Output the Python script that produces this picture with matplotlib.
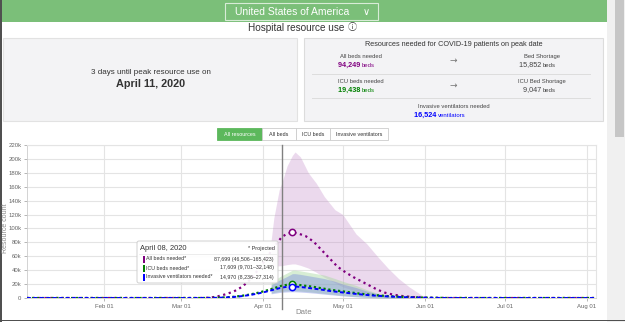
import matplotlib
matplotlib.use('Agg')
import matplotlib.pyplot as plt
import matplotlib.patches as patches
import matplotlib.dates as mdates

plt.rcParams['font.family'] = ['Liberation Sans', 'DejaVu Sans']

# ---- data ----
mean_dates = ['2020-01-03', '2020-03-08', '2020-03-12', '2020-03-15', '2020-03-18', '2020-03-21',
              '2020-03-24', '2020-03-27', '2020-03-30', '2020-04-02', '2020-04-05', '2020-04-08',
              '2020-04-10', '2020-04-12', '2020-04-14', '2020-04-17', '2020-04-20', '2020-04-23',
              '2020-04-26', '2020-04-29', '2020-05-02', '2020-05-05', '2020-05-08', '2020-05-11',
              '2020-05-14', '2020-05-17', '2020-05-20', '2020-05-24', '2020-05-28', '2020-06-02',
              '2020-06-10', '2020-08-04']
all_beds = [0, 0, 500, 2500, 5500, 9500, 16000, 26000, 40000, 56000, 73000, 87699,
            92500, 94249, 93000, 89000, 81000, 69000, 57000, 45000, 37000, 30000, 24000, 18000,
            12000, 7500, 4800, 2500, 1200, 300, 0, 0]
icu_beds = [0, 0, 100, 400, 900, 1800, 3200, 5000, 7500, 10500, 14000, 17609,
            19000, 19438, 19000, 17500, 16000, 14000, 12000, 10500, 9000, 7500, 6000, 4800,
            3900, 3000, 2300, 1500, 900, 400, 0, 0]
ventilators = [0, 0, 80, 350, 800, 1500, 2700, 4300, 6400, 9000, 12000, 14970,
               16100, 16524, 16200, 15000, 13500, 12000, 10200, 8800, 7500, 6300, 5100, 4000,
               3200, 2500, 1900, 1200, 700, 300, 0, 0]
peak_date = '2020-04-12'

band_dates = ['2020-04-04', '2020-04-05', '2020-04-07', '2020-04-08', '2020-04-10', '2020-04-12',
              '2020-04-13', '2020-04-15', '2020-04-18', '2020-04-21', '2020-04-24', '2020-04-28',
              '2020-05-01', '2020-05-06', '2020-05-10', '2020-05-14', '2020-05-18', '2020-05-22',
              '2020-05-26', '2020-06-01', '2020-06-05']
all_hi = [83000, 115000, 155000, 165423, 190000, 205000, 210000, 203000, 180000, 165000, 146000,
          127000, 120000, 92000, 78000, 60000, 43000, 28000, 16000, 1000, 0]
all_lo = [45000, 46000, 46300, 46506, 48000, 49000, 49000, 47000, 43000, 37000, 30000, 22000,
          16000, 10000, 6000, 3500, 2000, 1000, 400, 0, 0]
icu_hi = [22000, 25000, 30000, 32148, 36000, 40000, 40000, 39000, 37000, 35000, 33000, 28000,
          24000, 18000, 12000, 7000, 3500, 1500, 600, 0, 0]
icu_lo = [7000, 7800, 9200, 9701, 10200, 10500, 10400, 10000, 9000, 7800, 6500, 4800, 3500,
          2000, 1000, 500, 200, 0, 0, 0, 0]
vent_hi = [19000, 21000, 25500, 27314, 31000, 35000, 35000, 34000, 32000, 30000, 28000, 24000,
           20000, 15000, 10000, 6000, 3000, 1200, 500, 0, 0]
vent_lo = [6000, 6600, 7800, 8236, 8700, 9000, 8900, 8500, 7700, 6700, 5500, 4100, 3000, 1700,
           900, 400, 150, 0, 0, 0, 0]

y_ticks = [0, 20000, 40000, 60000, 80000, 100000, 120000, 140000, 160000, 180000, 200000, 220000]
y_labels = ['0', '20k', '40k', '60k', '80k', '100k', '120k', '140k', '160k', '180k', '200k', '220k']
x_ticks = ['2020-02-01', '2020-03-01', '2020-04-01', '2020-05-01', '2020-06-01', '2020-07-01', '2020-08-01']
x_labels = ['Feb 01', 'Mar 01', 'Apr 01', 'May 01', 'Jun 01', 'Jul 01', 'Aug 01']
today = '2020-04-08'

PURPLE = '#800080'
GREEN = '#008000'
BLUE = '#0000ff'
W, H = 625, 322

fig = plt.figure(figsize=(W / 100, H / 100), dpi=100)

# page background, drawn in pixel coordinates
bg = fig.add_axes([0, 0, 1, 1], zorder=0)
bg.set_xlim(0, W)
bg.set_ylim(H, 0)
bg.axis('off')


def box(a, x0, y0, x1, y1, **kw):
    a.add_patch(patches.Rectangle((x0, y0), x1 - x0, y1 - y0, **kw))


box(bg, 0, 0, 607, 22, facecolor='#7bbf79', edgecolor='none')
box(bg, 225, 3, 378, 20, facecolor='#7bbf79', edgecolor='#d8ecd7', lw=0.8)
bg.text(292, 11.5, 'United States of America', color='white', fontsize=7.5, ha='center', va='center')
bg.text(366, 12, '\u2228', color='white', fontsize=7, ha='center', va='center', family='DejaVu Sans')
bg.text(296, 27.5, 'Hospital resource use', color='#333333', fontsize=7.2, ha='center', va='center')
bg.text(352, 27.5, '\u24d8', color='#333333', fontsize=6.5, ha='center', va='center',
        family=['Noto Sans CJK SC', 'DejaVu Sans'])

# scrollbar and window borders
box(bg, 607, 0, 625, H, facecolor='#f0f0f0', edgecolor='none')
box(bg, 615, 0, 624, 137, facecolor='#c6c6c6', edgecolor='none')
box(bg, 0, 0, 1.6, H, facecolor='#505050', edgecolor='none')
box(bg, 0, 319.5, 625, 321.2, facecolor='#505050', edgecolor='none')

# summary panels
box(bg, 2.5, 38, 297, 120.5, facecolor='#f3f3f5', edgecolor='#e2e2e2', lw=0.8)
box(bg, 304, 38, 603, 120.5, facecolor='#f3f3f5', edgecolor='#dcdcdc', lw=0.8)
bg.text(151, 72, '3 days until peak resource use on', fontsize=5.8, color='#333333', ha='center', va='center')
bg.text(151, 84, 'April 11, 2020', fontsize=7.8, fontweight='bold', color='#333333', ha='center', va='center')

bg.text(454, 44.5, 'Resources needed for COVID-19 patients on peak date', fontsize=5.2, color='#333333',
        ha='center', va='center')
rows = [(56, 65, 'All beds needed', '94,249', PURPLE, 'beds', 'Bed Shortage', '15,852'),
        (81, 90, 'ICU beds needed', '19,438', GREEN, 'beds', 'ICU Bed Shortage', '9,047')]
for ya, yb, lab, num, col, unit, rlab, rnum in rows:
    bg.text(361, ya, lab, fontsize=4.2, color='#444444', ha='center', va='center')
    bg.text(362, yb, num + ' ', fontsize=5.2, fontweight='bold', color=col, ha='right', va='center')
    bg.text(362, yb, unit, fontsize=4.3, color=col, ha='left', va='center')
    bg.text(453, (ya + yb) / 2, '\u2192', fontsize=6.5, color='#777777', ha='center', va='center',
            family='DejaVu Sans')
    bg.text(542, ya, rlab, fontsize=4.2, color='#444444', ha='center', va='center')
    bg.text(543, yb, rnum + ' ', fontsize=5.2, color='#444444', ha='right', va='center')
    bg.text(543, yb, 'beds', fontsize=4.3, color='#444444', ha='left', va='center')
bg.plot([312, 590], [74, 74], color='#dddddd', lw=0.7)
bg.plot([312, 590], [98, 98], color='#dddddd', lw=0.7)
bg.text(454, 106, 'Invasive ventilators needed', fontsize=4.2, color='#444444', ha='center', va='center')
bg.text(438, 115, '16,524 ', fontsize=5.2, fontweight='bold', color=BLUE, ha='right', va='center')
bg.text(438, 115, 'ventilators', fontsize=4.3, color=BLUE, ha='left', va='center')

# toggle buttons
buttons = [(217, 262, 'All resources'), (262, 296, 'All beds'), (296, 330, 'ICU beds'),
           (330, 388, 'Invasive ventilators')]
for i, (x0, x1, lab) in enumerate(buttons):
    fc = '#5cb85c' if i == 0 else 'white'
    box(bg, x0, 128, x1, 139.5, facecolor=fc, edgecolor='#cccccc' if i else '#5cb85c', lw=0.6)
    bg.text((x0 + x1) / 2, 134, lab, fontsize=3.9, color='white' if i == 0 else '#333333',
            ha='center', va='center')

# ---- chart ----
L, R, T, B = 27, 596, 145, 298
ax = fig.add_axes([L / W, 1 - B / H, (R - L) / W, (B - T) / H], zorder=1)
ax.patch.set_alpha(0)

md = mdates.datestr2num(mean_dates)
bd = mdates.datestr2num(band_dates)

ax.fill_between(bd, all_lo, all_hi, color='#b876c0', alpha=0.27, lw=0, zorder=2)
ax.fill_between(bd, icu_lo, icu_hi, color='#a8d8a0', alpha=0.45, lw=0, zorder=3)
ax.fill_between(bd, vent_lo, vent_hi, color='#7080e0', alpha=0.38, lw=0, zorder=4)

ax.plot(md, all_beds, color=PURPLE, ls=(0, (1, 1.6)), lw=1.6, zorder=5)
ax.plot(md, icu_beds, color=GREEN, ls=(0, (1, 1.2)), lw=1.6, zorder=6)
ax.plot(md, ventilators, color=BLUE, ls=(0, (2, 1.3)), lw=1.4, zorder=7)

k = mean_dates.index(peak_date)
pk = mdates.datestr2num(peak_date)
for series, col in [(all_beds, PURPLE), (icu_beds, GREEN), (ventilators, BLUE)]:
    ax.plot(pk, series[k], 'o', ms=4.5, mfc='white', mec=col, mew=1.1, zorder=8)

ax.axvline(mdates.datestr2num(today), ymin=-0.07, ymax=1, color='#808080', lw=1, clip_on=False, zorder=9)

x_left = mdates.datestr2num('2020-02-01') - 29.0
x_right = mdates.datestr2num('2020-08-01') + 3.4
ax.set_xlim(x_left, x_right)
ax.set_ylim(0, 220000)
ax.set_yticks(y_ticks)
ax.set_yticklabels(y_labels)
ax.set_xticks(mdates.datestr2num(x_ticks))
ax.set_xticklabels(x_labels)
ax.tick_params(labelsize=4.3, colors='#666666', length=2.5, width=0.6, pad=1.5)
ax.tick_params(axis='both', color='#aaaaaa')
ax.grid(True, color='#e4e4e4', lw=0.8, zorder=0)
ax.set_axisbelow(True)
for side in ['top', 'right']:
    ax.spines[side].set_color('#e4e4e4')
    ax.spines[side].set_linewidth(0.8)
for side in ['left', 'bottom']:
    ax.spines[side].set_color('#cccccc')
    ax.spines[side].set_linewidth(0.6)

bg.text(304, 313, 'Date', fontsize=5.6, color='#888888', ha='center', va='center')
bg.text(6, 228, 'Resource count', fontsize=5, color='#888888', ha='center', va='center', rotation=90)

# ---- hover tooltip ----
fg = fig.add_axes([0, 0, 1, 1], zorder=3)
fg.set_xlim(0, W)
fg.set_ylim(H, 0)
fg.axis('off')
fg.add_patch(patches.FancyBboxPatch((137, 241), 141, 42, boxstyle='round,pad=0,rounding_size=2',
                                    facecolor='white', edgecolor='#cccccc', lw=0.7, alpha=0.93))
fg.text(140, 248.5, 'April 08, 2020', fontsize=5.4, color='#333333', ha='left', va='center')
fg.text(275, 248.5, '* Projected', fontsize=4.0, color='#333333', ha='right', va='center')
tip_rows = [(259, PURPLE, 'All beds needed*', '87,699 (46,506\u2013165,423)'),
            (268, GREEN, 'ICU beds needed*', '17,609 (9,701\u201332,148)'),
            (277, BLUE, 'Invasive ventilators needed*', '14,970 (8,236\u201327,314)')]
for y, col, lab, val in tip_rows:
    box(fg, 143, y - 3.5, 144.6, y + 3.5, facecolor=col, edgecolor='none')
    fg.text(146, y, lab, fontsize=3.8, color='#333333', ha='left', va='center')
    fg.text(274, y, val, fontsize=3.8, color='#333333', ha='right', va='center')
fg.plot([139, 276], [253.5, 253.5], color='#e4e4e4', lw=0.5)

fig.savefig('out.png', dpi=100)
